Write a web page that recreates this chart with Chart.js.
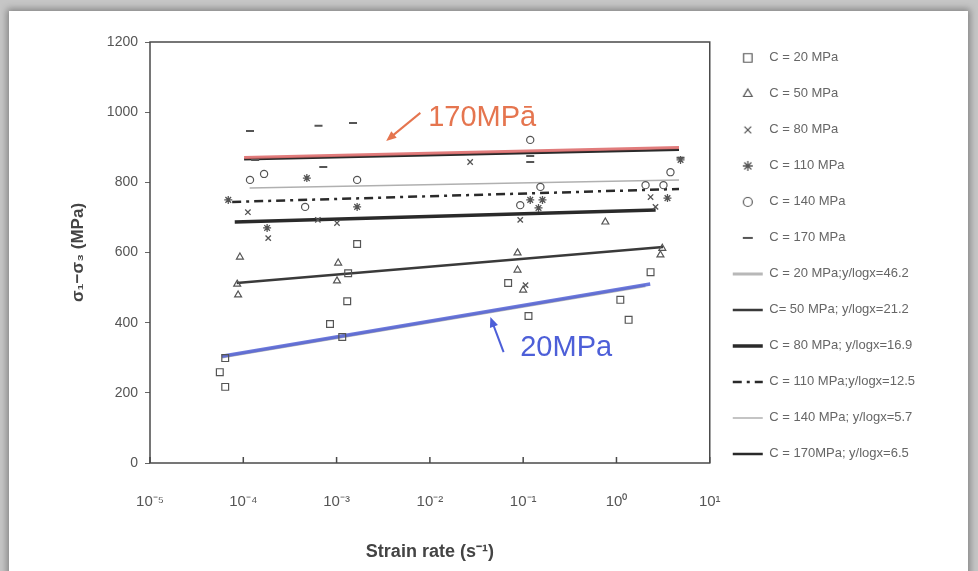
<!DOCTYPE html>
<html>
<head>
<meta charset="utf-8">
<script src="https://cdn.jsdelivr.net/npm/chart.js@4.4.1/dist/chart.umd.min.js"></script>
<style>
  html, body { margin: 0; padding: 0; width: 978px; height: 571px; overflow: hidden; background: #c6c6c6; }
  #card { position: absolute; left: 9px; top: 11px; width: 959px; height: 600px; background: #fff; box-shadow: 0 0 7px 2px rgba(0,0,0,0.35); }
  #chart { position: absolute; left: 0; top: 0; }
</style>
</head>
<body>
<div id="card"></div>
<canvas id="chart" width="978" height="571"></canvas>
<script>
// axis ticks
const xTickValues = [1e-5, 1e-4, 1e-3, 1e-2, 1e-1, 1e0, 1e1];
const xTickLabels = ['10⁻⁵', '10⁻⁴', '10⁻³', '10⁻²', '10⁻¹', '10⁰', '10¹'];

// measured points: strain rate (1/s) vs deviator stress (MPa)
const c20Rate = [6.4e-5, 5.6e-5, 6.4e-5, 8.5e-4, 1.15e-3, 1.66e-3, 1.33e-3, 1.3e-3, 0.069, 0.114, 1.10, 1.35, 2.32];
const c20Stress = [299, 259, 217, 396, 359, 624, 541, 461, 513, 419, 465, 408, 544];
const c50Rate = [9.2e-5, 8.8e-5, 8.6e-5, 1.04e-3, 1.01e-3, 0.087, 0.087, 0.10, 0.76, 2.96, 3.1];
const c50Stress = [587, 479, 510, 570, 519, 599, 550, 493, 687, 593, 612];
const c80Rate = [1.12e-4, 1.85e-4, 6.3e-4, 1.01e-3, 0.027, 0.093, 2.32, 2.62, 0.106];
const c80Stress = [715, 641, 693, 684, 858, 693, 758, 730, 507];
const c110Rate = [6.9e-5, 4.8e-4, 1.66e-3, 1.8e-4, 0.119, 0.161, 0.146, 3.52, 4.86];
const c110Stress = [750, 812, 730, 670, 750, 750, 727, 755, 864];
const c140Rate = [1.18e-4, 1.67e-4, 1.66e-3, 4.6e-4, 0.119, 3.79, 0.093, 0.153, 2.05, 3.19];
const c140Stress = [807, 824, 807, 730, 921, 829, 735, 787, 792, 792];
const c170Rate = [1.18e-4, 6.4e-4, 1.5e-3, 7.2e-4, 1.34e-4, 0.119, 0.119, 4.86];
const c170Stress = [946, 961, 969, 844, 864, 875, 858, 870];

// fitted lines (end points)
const fit20Rate = [5.9e-5, 2.04], fit20Stress = [302, 505];
const fit50Rate = [8.5e-5, 3.16], fit50Stress = [513, 616];
const fit80Rate = [8.1e-5, 2.63], fit80Stress = [687, 721];
const fit110Rate = [7.6e-5, 4.68], fit110Stress = [744, 781];
const fit140Rate = [1.17e-4, 4.68], fit140Stress = [784, 807];
const fit170Rate = [1.02e-4, 4.68], fit170Stress = [866, 893];

// coloured highlights drawn over two of the fits
const hl20Rate = [5.9e-5, 2.3], hl20Stress = [304, 510];
const hl170Rate = [1.02e-4, 4.68], hl170Stress = [871, 899];

// hand-written notes + arrows
const noteText = ['170MPā', '20MPa'];
const noteColor = ['#e5754f', '#4d5fd8'];
const noteRate = [9.6e-3, 0.093], noteStress = [983, 328];
const arrowFromRate = [7.9e-3, 0.0617], arrowFromStress = [998, 316];
const arrowToRate = [3.4e-3, 0.0445], arrowToStress = [918, 416];

const seriesLabels = ['C = 20 MPa', 'C = 50 MPa', 'C = 80 MPa', 'C = 110 MPa', 'C = 140 MPa', 'C = 170 MPa'];
const fitLabels = ['C = 20 MPa;y/logx=46.2', 'C= 50 MPa; y/logx=21.2', 'C = 80 MPa; y/logx=16.9',
                   'C = 110 MPa;y/logx=12.5', 'C = 140 MPa; y/logx=5.7', 'C = 170MPa; y/logx=6.5'];

const FONT = "'Liberation Sans', Arial, sans-serif";
const markerColor = '#555';

function pts(xs, ys) { return xs.map((x, i) => ({ x: x, y: ys[i] })); }

// small legend glyph drawn with chart.js' own point renderer
function symbol(style, radius, width) {
  const c = document.createElement('canvas');
  c.width = 30; c.height = 16;
  const g = c.getContext('2d');
  g.strokeStyle = markerColor;
  g.fillStyle = 'rgba(0,0,0,0)';
  g.lineWidth = width;
  Chart.helpers.drawPoint(g, { pointStyle: style, radius: radius, rotation: 0, borderWidth: width }, 15, 8);
  return c;
}

function markers(i, xs, ys, style, r, w) {
  return {
    label: seriesLabels[i], data: pts(xs, ys), order: 0,
    pointStyle: style, pointRadius: r, pointHoverRadius: r,
    pointBorderColor: markerColor, pointBackgroundColor: 'rgba(0,0,0,0)', pointBorderWidth: w,
    legendSymbol: symbol(style, r * 1.25, w)
  };
}

function fitLine(i, xs, ys, color, width, dash) {
  return {
    label: fitLabels[i], data: pts(xs, ys), order: 2, showLine: true,
    pointRadius: 0, borderColor: color, borderWidth: width, borderDash: dash || [], fill: false
  };
}

const paperPlugin = {
  id: 'paper',
  afterDraw(chart) {
    const { ctx, chartArea: a, scales } = chart;
    const x = scales.x, y = scales.y;
    ctx.save();
    // plot frame
    ctx.strokeStyle = '#4a4a4a';
    ctx.lineWidth = 1.5;
    ctx.strokeRect(a.left, a.top, a.right - a.left, a.bottom - a.top);
    // decade ticks point inwards
    ctx.beginPath();
    xTickValues.forEach(v => {
      const px = x.getPixelForValue(v);
      ctx.moveTo(px, a.bottom);
      ctx.lineTo(px, a.bottom - 6);
    });
    ctx.stroke();
    // notes
    noteText.forEach((t, i) => {
      ctx.fillStyle = noteColor[i];
      ctx.strokeStyle = noteColor[i];
      ctx.font = '29px ' + FONT;
      ctx.textBaseline = 'middle';
      ctx.fillText(t, x.getPixelForValue(noteRate[i]), y.getPixelForValue(noteStress[i]));
      const x1 = x.getPixelForValue(arrowFromRate[i]), y1 = y.getPixelForValue(arrowFromStress[i]);
      const x2 = x.getPixelForValue(arrowToRate[i]), y2 = y.getPixelForValue(arrowToStress[i]);
      const ang = Math.atan2(y2 - y1, x2 - x1);
      ctx.lineWidth = 2;
      ctx.beginPath();
      ctx.moveTo(x1, y1);
      ctx.lineTo(x2 - 6 * Math.cos(ang), y2 - 6 * Math.sin(ang));
      ctx.stroke();
      ctx.beginPath();
      ctx.moveTo(x2, y2);
      ctx.lineTo(x2 - 11 * Math.cos(ang - 0.4), y2 - 11 * Math.sin(ang - 0.4));
      ctx.lineTo(x2 - 11 * Math.cos(ang + 0.4), y2 - 11 * Math.sin(ang + 0.4));
      ctx.closePath();
      ctx.fill();
    });
    ctx.restore();
  }
};

new Chart(document.getElementById('chart'), {
  type: 'scatter',
  data: {
    datasets: [
      markers(0, c20Rate, c20Stress, 'rect', 4.8, 1.2),
      markers(1, c50Rate, c50Stress, 'triangle', 4, 1.2),
      markers(2, c80Rate, c80Stress, 'crossRot', 3.8, 1.3),
      markers(3, c110Rate, c110Stress, 'star', 4, 1.3),
      markers(4, c140Rate, c140Stress, 'circle', 3.6, 1.2),
      markers(5, c170Rate, c170Stress, 'line', 4, 2),
      fitLine(0, fit20Rate, fit20Stress, '#b8b8b8', 3),
      fitLine(1, fit50Rate, fit50Stress, '#3a3a3a', 2.5),
      fitLine(2, fit80Rate, fit80Stress, '#2a2a2a', 3.5),
      fitLine(3, fit110Rate, fit110Stress, '#2a2a2a', 2.5, [9, 5, 3, 5]),
      fitLine(4, fit140Rate, fit140Stress, '#b0b0b0', 1.5),
      fitLine(5, fit170Rate, fit170Stress, '#2a2a2a', 2.5),
      { label: 'hl20', data: pts(hl20Rate, hl20Stress), order: 1, showLine: true, pointRadius: 0,
        borderColor: 'rgba(82,98,214,0.85)', borderWidth: 3.5, noLegend: true },
      { label: 'hl170', data: pts(hl170Rate, hl170Stress), order: 1, showLine: true, pointRadius: 0,
        borderColor: 'rgba(222,110,110,0.9)', borderWidth: 3, noLegend: true }
    ]
  },
  options: {
    responsive: false,
    animation: false,
    devicePixelRatio: 1,
    layout: { padding: { left: 0, top: 0, bottom: 0, right: 53 } },
    plugins: {
      tooltip: { enabled: false },
      legend: {
        position: 'right',
        align: 'start',
        title: { display: true, text: ' ', padding: 7, font: { size: 12 } },
        labels: {
          usePointStyle: true,
          pointStyleWidth: 30,
          padding: 23,
          color: '#666',
          font: { family: FONT, size: 13 },
          filter: (item, data) => !data.datasets[item.datasetIndex].noLegend,
          generateLabels(chart) {
            const items = Chart.defaults.plugins.legend.labels.generateLabels(chart);
            return items.map(it => {
              const ds = chart.data.datasets[it.datasetIndex];
              if (ds.showLine) {
                it.pointStyle = 'line';
                it.strokeStyle = ds.borderColor;
                it.lineWidth = ds.borderWidth;
                it.lineDash = ds.borderDash || [];
              } else if (ds.legendSymbol) {
                it.pointStyle = ds.legendSymbol;
              }
              return it;
            });
          }
        }
      }
    },
    scales: {
      x: {
        type: 'logarithmic',
        position: 'bottom',
        min: 1e-5, max: 10,
        afterBuildTicks: axis => { axis.ticks = xTickValues.map(v => ({ value: v, major: true })); },
        afterFit: s => { s.height = 108; },
        grid: { display: false, drawTicks: false },
        border: { display: false },
        ticks: {
          autoSkip: false, maxRotation: 0, padding: 30,
          color: '#555', font: { family: FONT, size: 15 },
          callback: (v, i) => xTickLabels[i]
        },
        title: {
          display: true, text: 'Strain rate (s⁻¹)', color: '#444',
          font: { family: FONT, size: 18, weight: 'bold' },
          padding: { top: 0, bottom: 8 }
        }
      },
      xTop: {
        type: 'logarithmic',
        position: 'top',
        min: 1e-5, max: 10,
        ticks: { display: false },
        grid: { display: false, drawTicks: false },
        border: { display: false },
        afterFit: s => { s.height = 42; }
      },
      y: {
        min: 0, max: 1200,
        afterFit: s => { s.width = 150; },
        grid: { drawOnChartArea: false, tickLength: 5, color: '#666' },
        border: { display: false },
        ticks: { stepSize: 200, padding: 7, color: '#555', font: { family: FONT, size: 14 },
                 callback: v => String(v) },
        title: {
          display: true, text: 'σ₁−σ₃ (MPa)', color: '#444',
          font: { family: FONT, size: 17, weight: 'bold' },
          padding: { top: 68, bottom: 0 }
        }
      }
    }
  },
  plugins: [paperPlugin]
});
</script>
</body>
</html>
